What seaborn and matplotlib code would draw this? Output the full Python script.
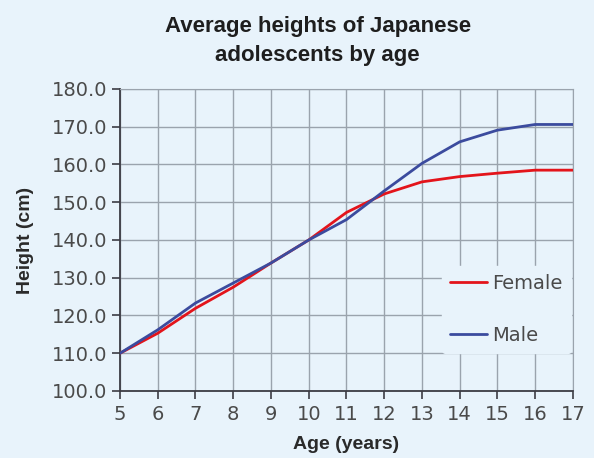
import pandas as pd
import seaborn as sns
import matplotlib.pyplot as plt

# data
ages = [5, 6, 7, 8, 9, 10, 11, 12, 13, 14, 15, 16, 17]
female = [110.0, 115.3, 121.9, 127.5, 133.9, 140.0, 147.3, 152.2, 155.4, 156.8, 157.7, 158.5, 158.5]
male = [110.0, 116.2, 123.3, 128.6, 133.9, 140.0, 145.4, 153.0, 160.3, 166.0, 169.1, 170.6, 170.6]
yticks = [100, 110, 120, 130, 140, 150, 160, 170, 180]

bg = "#e8f3fb"
df = pd.DataFrame({"Age": ages * 2,
                   "Height": female + male,
                   "Sex": ["Female"] * len(ages) + ["Male"] * len(ages)})

sns.set_style("white")
plt.rcParams["font.family"] = ["DejaVu Sans"]

fig = plt.figure(figsize=(5.94, 4.58), dpi=100, facecolor=bg)
ax = fig.add_axes([0.202, 0.1463, 0.7626, 0.6594])
ax.set_facecolor(bg)

sns.lineplot(data=df, x="Age", y="Height", hue="Sex",
             palette={"Female": "#e3141b", "Male": "#3b4b9e"},
             linewidth=2, ax=ax, zorder=3)

ax.set_xlim(5, 17)
ax.set_ylim(100, 180)
ax.set_xticks(ages)
ax.set_yticks(yticks)
ax.set_yticklabels([f"{v:.1f}" for v in yticks])
ax.grid(True, color="#9aa3ad", linewidth=1)
for s in ["top", "right"]:
    ax.spines[s].set_color("#9aa3ad")
for s in ["left", "bottom"]:
    ax.spines[s].set_color("#3c3c44")
    ax.spines[s].set_linewidth(1.3)
ax.tick_params(axis="both", direction="out", length=6, width=1.2,
               color="#3c3c44", labelsize=14, labelcolor="#4a4a4a", pad=3)
ax.tick_params(axis="x", bottom=True, pad=4)
ax.tick_params(axis="y", left=True)

ax.set_xlabel("Age (years)", fontsize=14, fontweight="bold", color="#2a2a2a",
              labelpad=9, family=["Liberation Sans", "DejaVu Sans"])
ax.set_ylabel("Height (cm)", fontsize=14, fontweight="bold", color="#2a2a2a",
              labelpad=13, family=["Liberation Sans", "DejaVu Sans"])

fig.text(0.535, 0.965, "Average heights of Japanese\nadolescents by age",
         ha="center", va="top", fontsize=16, fontweight="bold",
         family=["Liberation Sans", "DejaVu Sans"], linespacing=1.5,
         color="#1e1e1e")

leg = ax.legend(loc="center left", bbox_to_anchor=(0.689, 0.27), frameon=True,
                facecolor=bg, edgecolor=bg, framealpha=1, fontsize=14,
                handlelength=1.9, handletextpad=0.3, labelspacing=1.7,
                borderpad=0.4, title=None)
for t in leg.get_texts():
    t.set_color("#4a4a4a")
leg.set_zorder(4)

fig.savefig("out.png", dpi=100, facecolor=bg)
